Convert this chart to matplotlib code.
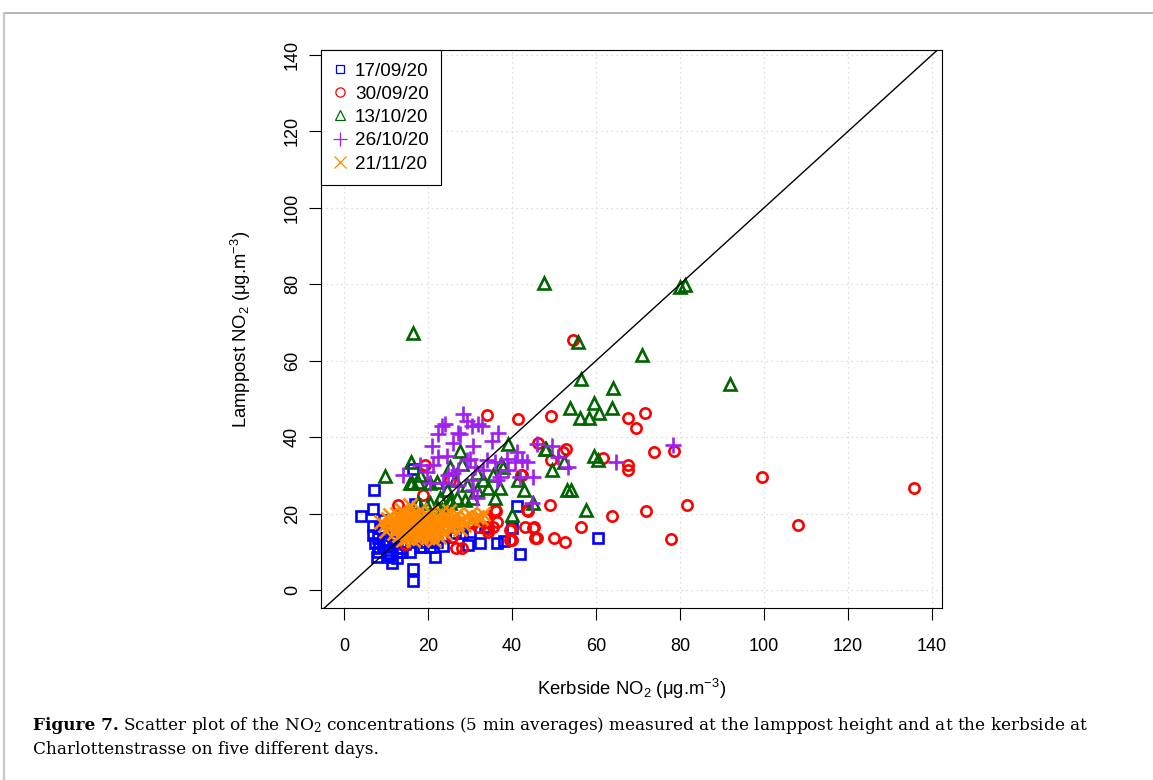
import matplotlib
matplotlib.use("Agg")
import matplotlib.pyplot as plt
from matplotlib.lines import Line2D

plt.rcParams['font.family'] = ['Liberation Sans', 'DejaVu Sans']
plt.rcParams['mathtext.default'] = 'regular'

# 17/09/20
blue_x = [4.0, 7.1, 6.9, 6.8, 9.4, 6.9, 7.4, 7.8, 10.5, 11.3, 16.4, 16.4, 21.7, 8.6, 11.4, 8.1,
          11.0, 9.3, 10.5, 12.6, 13.8, 15.7, 18.1, 20.5, 22.1, 28.1, 29.5, 32.4, 36.4, 38.1, 41.2,
          41.9, 40.0, 60.5, 16.4, 16.9, 13.3, 18.8, 8.0, 9.5, 10.0, 12.0, 14.5, 16.0, 19.5, 24.0,
          26.5, 30.0, 11.5, 13.0, 8.3, 12.5, 17.5, 33.5, 20.0, 23.5]
blue_y = [19.5, 26.3, 21.2, 16.8, 18.3, 14.3, 12.3, 8.6, 8.6, 7.0, 5.4, 2.4, 8.6, 16.2, 14.3, 9.9,
          9.1, 11.7, 10.4, 11.0, 9.9, 9.9, 11.2, 11.2, 12.5, 14.9, 11.7, 12.3, 12.3, 12.8, 22.0,
          9.4, 16.2, 13.6, 31.8, 22.5, 9.9, 11.2, 13.5, 15.5, 12.5, 13.0, 12.0, 12.8, 12.5, 13.8,
          15.0, 15.2, 17.0, 15.5, 11.0, 8.5, 13.5, 16.5, 15.0, 11.5]

# 30/09/20
red_x = [54.4, 34.0, 41.3, 49.3, 67.6, 71.7, 69.5, 46.2, 52.8, 52.2, 49.3, 61.7, 67.6, 67.6, 73.8,
         78.5, 42.1, 49.0, 63.9, 71.9, 81.7, 43.8, 45.2, 36.2, 34.0, 36.4, 34.3, 39.8, 39.5, 46.0,
         50.0, 52.6, 56.4, 77.9, 99.5, 108.2, 135.8, 26.7, 28.0, 30.7, 19.3, 25.2, 42.4, 18.8,
         36.0, 33.6, 31.9, 35.5, 12.9, 14.5, 19.3, 25.7, 43.6, 45.0, 45.5, 40.0, 39.5, 34.3, 43.1]
red_y = [65.4, 45.7, 44.7, 45.6, 45.1, 46.4, 42.5, 38.6, 37.0, 36.0, 34.1, 34.6, 32.8, 31.3, 36.0,
         36.3, 30.0, 22.2, 19.3, 20.6, 22.2, 20.6, 16.6, 20.6, 19.0, 17.7, 15.9, 15.9, 13.0, 13.6,
         13.6, 12.5, 16.4, 13.3, 29.5, 17.0, 26.8, 10.9, 10.9, 17.5, 32.6, 28.7, 30.0, 24.8,
         20.9, 18.8, 16.4, 16.4, 22.2, 12.0, 13.6, 13.8, 20.9, 16.2, 13.6, 13.0, 15.6, 15.1, 16.4]

# 13/10/20
green_x = [16.4, 47.7, 80.0, 81.1, 92.0, 71.0, 55.6, 56.5, 64.0, 53.8, 59.4, 63.9, 56.1, 58.4, 60.7,
           48.1, 52.3, 49.5, 59.4, 60.5, 53.2, 54.1, 57.5, 39.0, 47.9, 42.9, 40.1, 44.9, 37.4, 27.5,
           9.8, 16.0, 16.2, 18.1, 17.6, 15.7, 20.5, 17.6, 25.2, 23.3, 28.1, 25.3, 22.1, 24.5, 26.4,
           29.3, 33.1, 34.3, 31.7, 36.0, 26.9, 28.8, 30.5, 22.9, 25.2, 20.5, 22.1, 37.9, 37.1, 41.4,
           31.7, 19.8, 35.5]
green_y = [67.3, 80.4, 79.2, 79.9, 53.8, 61.5, 65.0, 55.1, 52.9, 47.7, 48.9, 47.7, 45.0, 45.0, 46.4,
           37.0, 33.6, 31.3, 35.2, 33.9, 26.3, 26.3, 21.0, 38.2, 36.8, 26.3, 19.6, 22.8, 33.1, 36.5,
           29.8, 33.6, 28.0, 30.0, 28.2, 27.9, 27.9, 22.9, 22.9, 20.9, 33.1, 32.1, 28.2, 26.1, 28.7,
           27.4, 28.7, 26.6, 26.3, 24.2, 24.0, 23.5, 24.0, 24.2, 23.5, 22.9, 21.6, 32.1, 26.8, 28.7,
           30.5, 21.6, 30.0]

# 26/10/20
purple_x = [28.3, 29.3, 23.3, 22.4, 27.6, 30.5, 31.9, 36.7, 35.2, 30.7, 26.0, 21.0, 22.4, 24.5, 18.1,
            21.2, 14.0, 19.8, 20.5, 24.8, 27.1, 29.3, 31.2, 34.0, 36.0, 38.8, 40.7, 42.4, 43.6, 46.0,
            49.5, 41.2, 37.1, 31.7, 44.8, 45.0, 41.9, 23.6, 27.1, 30.5, 39.0, 50.9, 53.3, 64.8, 78.4,
            30.7, 26.0, 33.1, 36.4, 32.9, 24.0, 27.1, 30.0]
purple_y = [46.1, 44.3, 43.0, 40.9, 40.9, 43.0, 43.5, 41.2, 39.1, 37.8, 38.6, 37.8, 34.7, 35.2, 32.6,
            32.6, 30.0, 30.8, 27.9, 30.0, 31.3, 33.9, 32.1, 33.9, 33.4, 34.4, 33.4, 33.9, 33.4, 38.3,
            37.8, 36.0, 29.5, 24.2, 22.7, 29.5, 29.5, 27.9, 27.4, 28.7, 31.3, 34.7, 32.3, 33.4, 37.9,
            26.1, 30.5, 31.3, 28.7, 43.0, 43.5, 41.0, 34.4]

# 21/11/20
orange_x = [8.8, 9.8, 11.0, 13.8, 15.7, 18.1, 20.5, 22.9, 25.2, 26.9, 16.4, 30.0, 28.3, 26.0, 22.9,
            19.8, 31.7, 26.0, 22.1, 12.0, 12.5, 13.0, 14.0, 14.5, 15.0, 15.5, 16.0, 16.5, 17.0, 17.5,
            18.0, 18.5, 19.0, 19.5, 20.0, 20.5, 21.0, 21.5, 22.0, 23.5, 24.0, 24.5, 12.0, 13.5, 14.5,
            15.0, 16.0, 17.0, 18.0, 19.0, 20.0, 21.0, 22.0, 11.0, 10.5, 13.0, 14.0, 16.5, 17.5, 18.5,
            20.0, 23.0, 25.5, 27.5, 29.0, 32.5, 24.0, 15.0, 12.5, 18.0, 21.5, 27.0, 10.0, 14.0,
            13.2, 14.8, 16.2, 17.8, 19.2, 20.8, 15.6, 17.2, 18.8, 14.2, 16.8, 19.6, 21.8, 23.2,
            24.8, 26.4, 28.6, 30.8, 33.0, 12.8, 15.4, 18.4, 20.6, 22.6, 25.0]
orange_y = [17.8, 16.9, 19.6, 20.9, 22.2, 20.9, 18.8, 16.9, 16.2, 17.5, 13.0, 20.0, 18.2, 17.5, 15.6,
            13.8, 19.0, 16.4, 14.9, 18.0, 16.0, 14.5, 17.5, 19.0, 15.5, 17.0, 18.5, 20.0, 16.0, 14.5,
            17.5, 19.0, 15.0, 17.0, 16.0, 20.5, 14.5, 17.5, 19.0, 18.0, 15.0, 19.5, 15.0, 18.5, 16.0,
            13.5, 16.0, 18.0, 15.5, 18.0, 14.0, 16.5, 17.5, 17.0, 18.5, 17.0, 15.0, 14.5, 17.0, 16.5,
            19.5, 20.5, 18.5, 16.0, 19.0, 18.8, 17.0, 19.5, 20.0, 13.5, 13.0, 20.0, 15.5, 13.0,
            16.2, 17.8, 15.2, 16.6, 17.4, 15.8, 18.2, 19.6, 16.8, 19.8, 17.6, 15.4, 18.4, 16.4,
            17.8, 19.2, 17.0, 18.4, 19.8, 17.4, 14.8, 14.2, 17.2, 14.0, 20.8]

dates = ["17/09/20", "30/09/20", "13/10/20", "26/10/20", "21/11/20"]
cols = ["#0000FF", "#FF0000", "#006400", "#A020F0", "#FF8C00"]
marks = ["s", "o", "^", "+", "x"]
sizes = [6.8, 7.4, 8.5, 11, 9.5]
series = [(blue_x, blue_y), (red_x, red_y), (green_x, green_y),
          (purple_x, purple_y), (orange_x, orange_y)]

fig = plt.figure(figsize=(11.53, 7.8), dpi=100)
ax = fig.add_axes([321/1153, 172/780, (942-321)/1153, (608-50)/780])

ticks = list(range(0, 141, 20))
for t in ticks:
    ax.axvline(t, color="lightgray", ls=(0, (1, 3)), lw=0.9, zorder=0)
    ax.axhline(t, color="lightgray", ls=(0, (1, 3)), lw=0.9, zorder=0)

for (xs, ys), c, m, s in zip(series, cols, marks, sizes):
    ax.plot(xs, ys, ls="none", marker=m, ms=s, mfc="none", mec=c, mew=1.9, zorder=2)

ax.plot([-10, 150], [-10, 150], color="black", lw=1, zorder=3)

ax.set_xlim(-5.5, 142.4)
ax.set_ylim(-4.7, 141.3)
ax.set_xticks(ticks)
ax.set_yticks(ticks)
ax.tick_params(direction="out", length=8.5, width=0.8, labelsize=13)
ax.tick_params(axis="x", pad=13)
ax.tick_params(axis="y", labelrotation=90, pad=6)
for lab in ax.get_yticklabels():
    lab.set_va("center")
for sp in ax.spines.values():
    sp.set_linewidth(0.8)

ax.set_xlabel("Kerbside NO$_2$ (μg.m$^{-3}$)", fontsize=13.3, labelpad=16)
ax.set_ylabel("Lamppost NO$_2$ (μg.m$^{-3}$)", fontsize=13.3, labelpad=22)

handles = [Line2D([], [], ls="none", marker=m, ms=s * 0.9, mfc="none", mec=c, mew=0.9)
           for c, m, s in zip(cols, marks, sizes)]
leg = ax.legend(handles, dates, loc="upper left", borderaxespad=0, fancybox=False,
                edgecolor="black", framealpha=1, fontsize=13.6, handlelength=0.7,
                handletextpad=0.45, labelspacing=0.32, borderpad=0.65)
leg.get_frame().set_linewidth(0.8)
leg.set_zorder(5)

# page frame
fig.add_artist(Line2D([4/1153, 1], [1-13/780, 1-13/780], color="#a8a8a8", lw=1.2))
fig.add_artist(Line2D([4/1153, 4/1153], [0, 1-13/780], color="#c8c8c8", lw=1.6))

# caption
cap_font = ["DejaVu Serif"]
t1 = fig.text(33/1153, 1-725/780, "Figure 7.", fontsize=12.2, fontweight="bold",
              family=cap_font, va="center")
fig.canvas.draw()
bb = t1.get_window_extent()
fig.text((bb.x1 + 4)/1153, 1-725/780,
         "Scatter plot of the NO$_2$ concentrations (5 min averages) measured at the lamppost height and at the kerbside at",
         fontsize=12.2, family=cap_font, va="center")
fig.text(33/1153, 1-750/780, "Charlottenstrasse on five different days.",
         fontsize=12.2, family=cap_font, va="center")

fig.savefig("out.png", dpi=100)
